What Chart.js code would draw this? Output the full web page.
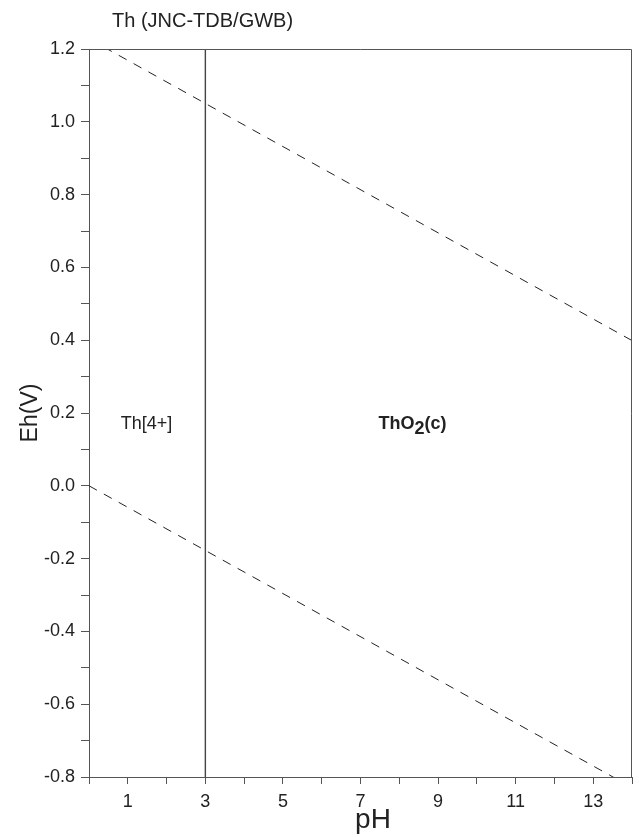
<!DOCTYPE html>
<html>
<head>
<meta charset="utf-8">
<script src="https://cdn.jsdelivr.net/npm/chart.js@4/dist/chart.umd.min.js"></script>
<style>
  html, body { margin: 0; padding: 0; background: #fff; }
  #wrap { width: 639px; height: 837px; }
</style>
</head>
<body>
<div id="wrap"><canvas id="c"></canvas></div>
<script>
// boundaries (pH, Eh in volts)
const waterUpperPH = [0, 14];
const waterUpperEh = [1.228, 0.399];
const waterLowerPH = [0, 14];
const waterLowerEh = [0, -0.829];
const thoriumBoundaryPH = [3, 3];
const thoriumBoundaryEh = [-0.8, 1.2];

const xTickLabels = [1, 3, 5, 7, 9, 11, 13];
const yTickLabels = [-0.8, -0.6, -0.4, -0.2, 0.0, 0.2, 0.4, 0.6, 0.8, 1.0, 1.2];

const fieldNames = ["Th[4+]", "ThO2(c)"];
const fieldPH = [1.48, 8.34];
const fieldEh = [0.17, 0.17];

const toPoints = (xs, ys) => xs.map((x, i) => ({ x: x, y: ys[i] }));

const FONT = "'Liberation Sans', Arial, sans-serif";
const AXIS = "#555";
const INK = "#222";

// frame, title, x title and field names
const extras = {
  id: "extras",
  afterDatasetsDraw(chart) {
    const ctx = chart.ctx;
    const a = chart.chartArea;
    const xs = chart.scales.x, ys = chart.scales.y;
    ctx.save();
    ctx.strokeStyle = AXIS;
    ctx.lineWidth = 1;
    ctx.beginPath();
    ctx.moveTo(a.left, a.top + 0.5);
    ctx.lineTo(a.right - 0.5, a.top + 0.5);
    ctx.lineTo(a.right - 0.5, a.bottom);
    ctx.stroke();

    ctx.fillStyle = INK;
    ctx.textBaseline = "middle";
    ctx.textAlign = "left";
    ctx.font = "20px " + FONT;
    ctx.fillText("Th (JNC-TDB/GWB)", 112, 21);

    ctx.textAlign = "center";
    ctx.font = "28px " + FONT;
    ctx.fillText("pH", 373, 820);

    fieldNames.forEach((name, i) => {
      const px = xs.getPixelForValue(fieldPH[i]);
      const py = ys.getPixelForValue(fieldEh[i]);
      if (name === "ThO2(c)") {
        ctx.textAlign = "left";
        ctx.font = "bold 18px " + FONT;
        const w1 = ctx.measureText("ThO").width;
        const w2 = ctx.measureText("2").width;
        const w3 = ctx.measureText("(c)").width;
        const x0 = px - (w1 + w2 + w3) / 2;
        ctx.fillText("ThO", x0, py);
        ctx.fillText("2", x0 + w1, py + 5);
        ctx.fillText("(c)", x0 + w1 + w2, py);
      } else {
        ctx.font = "18px " + FONT;
        ctx.textAlign = "center";
        ctx.fillText(name, px, py);
      }
    });
    ctx.restore();
  }
};

new Chart(document.getElementById("c"), {
  type: "scatter",
  data: {
    datasets: [
      {
        data: toPoints(waterUpperPH, waterUpperEh),
        showLine: true,
        borderColor: INK,
        borderWidth: 1,
        borderDash: [9, 8],
        pointRadius: 0,
      },
      {
        data: toPoints(waterLowerPH, waterLowerEh),
        showLine: true,
        borderColor: INK,
        borderWidth: 1,
        borderDash: [9, 8],
        pointRadius: 0,
      },
      {
        data: toPoints(thoriumBoundaryPH, thoriumBoundaryEh),
        showLine: true,
        borderColor: "#444",
        borderWidth: 1.4,
        pointRadius: 0,
      },
    ],
  },
  options: {
    responsive: true,
    maintainAspectRatio: false,
    animation: false,
    layout: { padding: { top: 49, right: 6, left: 0, bottom: 0 } },
    plugins: {
      legend: { display: false },
      tooltip: { enabled: false },
      title: { display: false },
    },
    scales: {
      x: {
        type: "linear",
        min: 0,
        max: 14,
        afterFit: (s) => { s.height = 60; },
        afterBuildTicks: (s) => {
          s.ticks = [];
          for (let v = 0; v <= 14; v++) s.ticks.push({ value: v });
        },
        ticks: {
          autoSkip: false,
          maxRotation: 0,
          padding: 7,
          color: INK,
          font: { family: FONT, size: 18 },
          callback: (v) => (xTickLabels.includes(v) ? String(v) : ""),
        },
        grid: { drawOnChartArea: false, drawTicks: true, tickLength: 7, color: AXIS },
        border: { display: true, color: AXIS, width: 1 },
      },
      y: {
        type: "linear",
        min: -0.8,
        max: 1.2,
        afterFit: (s) => { s.width = 89; },
        afterBuildTicks: (s) => {
          s.ticks = [];
          for (let k = -8; k <= 12; k++) s.ticks.push({ value: k / 10 });
        },
        ticks: {
          autoSkip: false,
          padding: 6,
          color: INK,
          font: { family: FONT, size: 18 },
          callback: (v) => {
            const hit = yTickLabels.find((t) => Math.abs(t - v) < 1e-6);
            return hit === undefined ? "" : hit.toFixed(1);
          },
        },
        grid: { drawOnChartArea: false, drawTicks: true, tickLength: 8, color: AXIS },
        border: { display: true, color: AXIS, width: 1 },
        title: {
          display: true,
          text: "Eh(V)",
          color: INK,
          font: { family: FONT, size: 23 },
          padding: { top: 17, bottom: 0 },
        },
      },
    },
  },
  plugins: [extras],
});
</script>
</body>
</html>
